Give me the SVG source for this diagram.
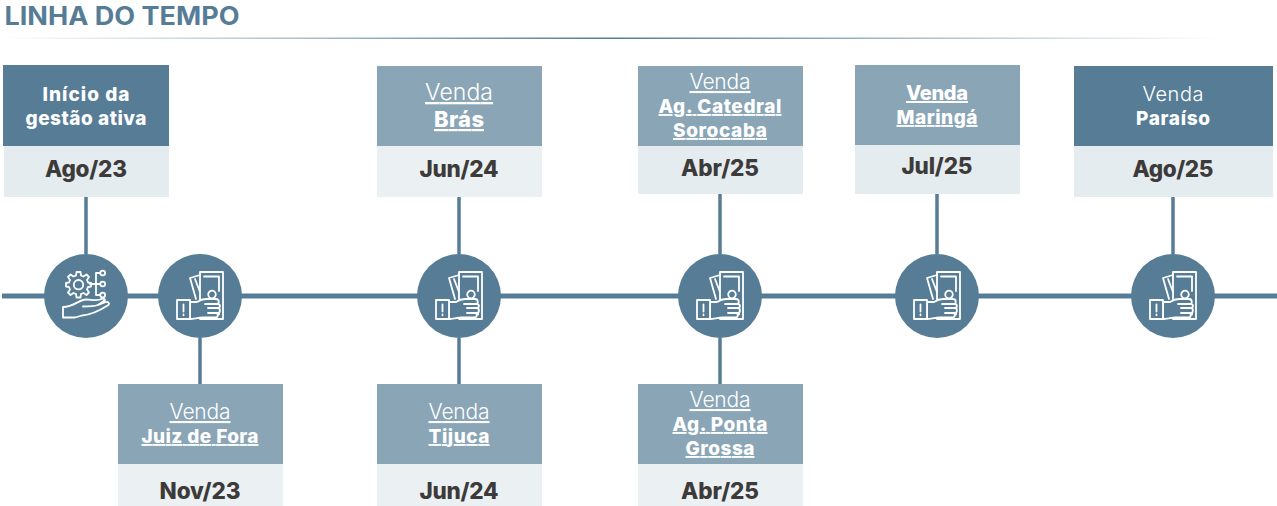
<svg xmlns="http://www.w3.org/2000/svg" width="1277" height="506" viewBox="0 0 1277 506">
<style>
text{font-family:"Inter","Liberation Sans",sans-serif;text-anchor:middle}
.h{font-size:19px;fill:#fff;font-weight:800}
.v{font-size:21px;fill:#fff;font-weight:300;text-decoration:underline}
.b{font-size:19px;fill:#fff;font-weight:800;text-decoration:underline}
.d{font-size:22.500px;fill:#3d3b3a;font-weight:800}
.dark{fill:#567c96}.mid{fill:#89a5b6}.pale{fill:#e5ecf0}.paler{fill:#ebf0f3}
.ln{stroke:#567c96;fill:none}
.ic{stroke:#fff;fill:none;stroke-width:1.800;stroke-linejoin:round;stroke-linecap:round}
.hand{fill:#567c96}
</style>
<defs>
<linearGradient id="g" x1="0" x2="1" y1="0" y2="0"><stop offset="0" stop-color="#567c96" stop-opacity="0"/><stop offset="0.5" stop-color="#567c96"/><stop offset="1" stop-color="#567c96" stop-opacity="0"/></linearGradient>
<g id="money" class="ic">
<path d="M-10 -18L0 -21M-10 -18L-4 3M-5 -17L0 -4"/>
<rect x="0" y="-24" width="23" height="47"/>
<path d="M4 -19.500H19V-5M19 14V18.500H7"/>
<circle cx="12" cy="-1.500" r="3.800"/>
<path class="hand" d="M-10 6H-3C0 4 3 3 6 3H16C19.500 3 19.500 8 17 8H18C20.500 8 20.500 12 18 12C20.500 12 20.500 17 18 17H16C18.500 17 18.500 21.500 15.500 21.500H3C-2 21.500 -6 23 -10 23Z"/>
<path d="M5 8H17M8 12H18M8 17H17"/>
<path class="hand" d="M-23 4H-10V23H-23Z"/>
<path d="M-16.500 8.500V15.500M-16.500 18.500V19.300"/>
</g>
<g id="gear" class="ic">
<path d="M-9.500 -24L-5.500 -24L-5 -20.500L-2.500 -19.500L0.500 -21.500L3 -19L1 -16L2 -13.500L5 -13V-9.500L2 -9L1 -6.500L3 -3.500L0.500 -1L-2.500 -3L-5 -2L-5.500 1.500H-9.500L-10 -2L-12.500 -3L-15.500 -1L-18 -3.500L-16 -6.500L-17 -9L-20 -9.500V-13L-17 -13.500L-16 -16L-18 -19L-15.500 -21.500L-12.500 -19.500L-10 -20.500Z"/>
<circle cx="-7.500" cy="-11.300" r="4.700"/>
<path d="M4 -12H14M10 -12V-23H14M10 -12V-1H14"/>
<circle cx="16.700" cy="-23" r="2.400"/><circle cx="16.700" cy="-12" r="2.400"/><circle cx="16.700" cy="-1" r="2.400"/>
<path d="M-23 11V21.500H-11L-4 19.500C4 19 13 15 22.500 9C24 7 22 5.500 20 6L12 9C14 7 17 6 19 4C18.500 2 16 2.500 14 3.500C9 5 5 3.500 0 3.500C-7 3.500 -12 11 -23 11Z"/>
<path d="M-3 10.500C2 10.500 7 10.500 12 9"/>
</g>
</defs>
<text id="title" x="122" y="24.500" style="font-size:25px;font-weight:700;fill:#567c96" textLength="235" lengthAdjust="spacingAndGlyphs">LINHA DO TEMPO</text>
<rect id="title-rule" x="0" y="37.500" width="1220" height="1.500" fill="url(#g)"/>
<g id="connectors">
<path class="ln" stroke-width="5" d="M2 296H1277"/>
<path class="ln" stroke-width="3.500" d="M86 197V254M200 338V384M459 197V254M459 338V384M720 194V254M720 338V384M937 194V254M1173 197V254"/>
</g>
<g id="n1"><rect class="dark" x="3" y="65" width="166" height="81"/><rect class="pale" x="4" y="146" width="165" height="51"/>
<text class="h" x="86" y="100.500" textLength="87">Início da</text><text class="h" x="86" y="125" textLength="121">gestão ativa</text><text class="d" x="86" y="177" textLength="82">Ago/23</text></g>
<g id="n2"><rect class="mid" x="118" y="384" width="165" height="80"/><rect class="paler" x="118" y="464" width="165" height="42"/>
<text class="v" x="200" y="419" textLength="61">Venda</text><text class="b" x="200" y="443" textLength="117">Juiz de Fora</text><text class="d" x="200" y="499" textLength="81">Nov/23</text></g>
<g id="n3"><rect class="mid" x="377" y="66" width="165" height="80"/><rect class="paler" x="377" y="146" width="165" height="51"/>
<text class="v" x="459" y="100" style="font-size:23px" textLength="68">Venda</text><text class="b" x="459" y="127" style="font-size:22px" textLength="50">Brás</text><text class="d" x="459" y="177" textLength="79">Jun/24</text></g>
<g id="n4"><rect class="mid" x="377" y="384" width="165" height="80"/><rect class="paler" x="377" y="464" width="165" height="42"/>
<text class="v" x="459" y="419" textLength="61">Venda</text><text class="b" x="459" y="443" textLength="61">Tijuca</text><text class="d" x="459" y="499" textLength="79">Jun/24</text></g>
<g id="n5"><rect class="mid" x="638" y="66" width="165" height="80"/><rect class="pale" x="638" y="146" width="165" height="48"/>
<text class="v" x="720" y="89" textLength="61">Venda</text><text class="b" x="720" y="113" textLength="123">Ag. Catedral</text><text class="b" x="720" y="137" textLength="94">Sorocaba</text><text class="d" x="720" y="175.500" textLength="78">Abr/25</text></g>
<g id="n6"><rect class="mid" x="638" y="384" width="165" height="80"/><rect class="paler" x="638" y="464" width="165" height="42"/>
<text class="v" x="720" y="407" textLength="61">Venda</text><text class="b" x="720" y="431" textLength="95">Ag. Ponta</text><text class="b" x="720" y="455" textLength="69">Grossa</text><text class="d" x="720" y="499" textLength="78">Abr/25</text></g>
<g id="n7"><rect class="mid" x="855" y="65" width="165" height="80"/><rect class="pale" x="855" y="145" width="165" height="49"/>
<text class="b" x="937" y="100" style="font-size:20px" textLength="62">Venda</text><text class="b" x="937" y="124" textLength="81">Maringá</text><text class="d" x="937" y="174" textLength="71">Jul/25</text></g>
<g id="n8"><rect class="dark" x="1074" y="66" width="199" height="80"/><rect class="pale" x="1074" y="146" width="199" height="51"/>
<text x="1173" y="101" style="font-size:20px;fill:#fff;font-weight:300" textLength="61">Venda</text><text x="1173" y="124.500" style="font-size:19px;fill:#fff;font-weight:800" textLength="74">Paraíso</text><text class="d" x="1173" y="177" textLength="81">Ago/25</text></g>
<g id="c1"><circle class="dark" cx="86" cy="296" r="42"/><use href="#gear" x="86" y="296"/></g>
<g id="c2"><circle class="dark" cx="200" cy="296" r="42"/><use href="#money" x="200" y="296"/></g>
<g id="c3"><circle class="dark" cx="459" cy="296" r="42"/><use href="#money" x="459" y="296"/></g>
<g id="c4"><circle class="dark" cx="720" cy="296" r="42"/><use href="#money" x="720" y="296"/></g>
<g id="c5"><circle class="dark" cx="937" cy="296" r="42"/><use href="#money" x="937" y="296"/></g>
<g id="c6"><circle class="dark" cx="1173" cy="296" r="42"/><use href="#money" x="1173" y="296"/></g>
</svg>
